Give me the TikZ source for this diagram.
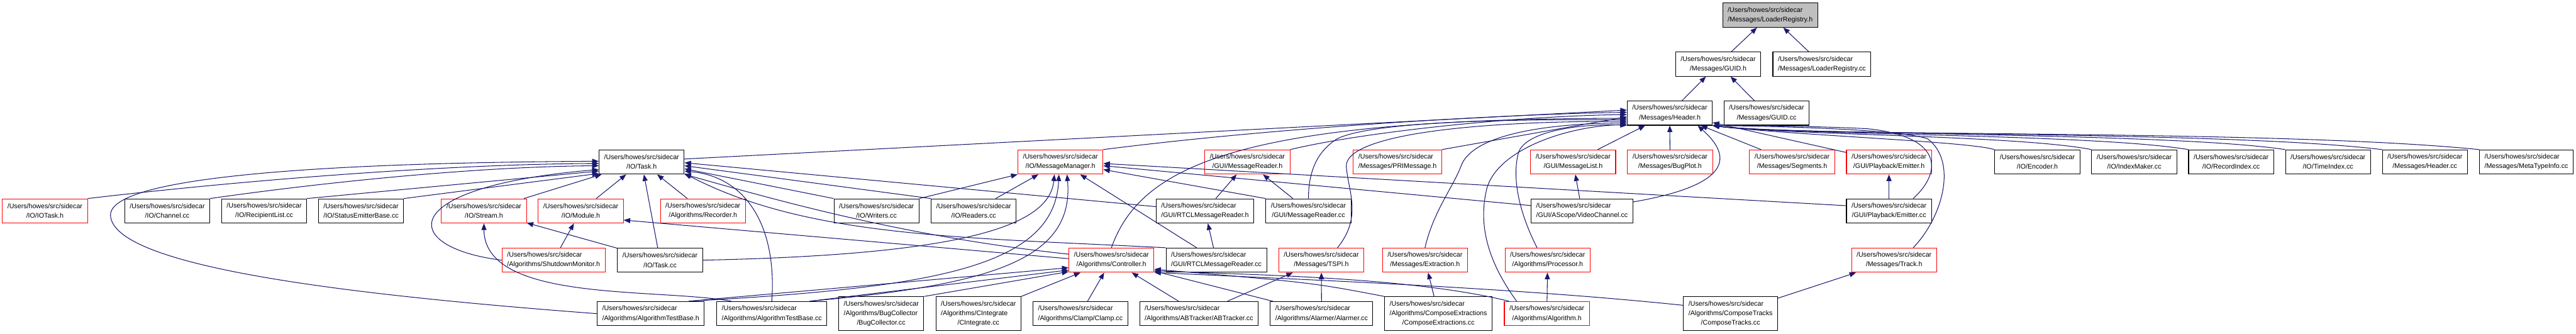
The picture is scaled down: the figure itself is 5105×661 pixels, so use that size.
\documentclass[tikz,border=0pt]{standalone}
\usepackage{fontspec}
\setmainfont{Liberation Sans}
\usepackage{tikz}
\usetikzlibrary{arrows.meta}
\definecolor{edgeblue}{RGB}{25,25,112}
\newcommand{\srcdir}{/Users/howes/src/sidecar}

\begin{document}
\begin{tikzpicture}[
  x=1pt, y=-1pt,
  filebox/.style={rectangle, draw=black, fill=white, line width=1.3pt,
              minimum height=48pt, inner xsep=10pt, inner ysep=4pt, align=center,
              font=\fontsize{13.3}{19}\selectfont},
  partbox/.style={filebox, draw=red},
  curbox/.style={filebox, fill=black!25},
  lftbox/.style={align=left},
  tallbox/.style={align=left, minimum height=67pt},
  incl/.style={-{Triangle[length=13pt,width=10pt]}, draw=edgeblue, line width=1.3pt}
]
\useasboundingbox (0,0) rectangle (5105,661);

\node[curbox, lftbox] (LRh) at (3508,30) {\srcdir\\/Messages/LoaderRegistry.h};
\node[filebox] (GUIDh) at (3405,127) {\srcdir\\/Messages/GUID.h};
\node[filebox, lftbox] (LRcc) at (3610.5,127) {\srcdir\\/Messages/LoaderRegistry.cc};
\node[filebox] (Headerh) at (3309,224) {\srcdir\\/Messages/Header.h};
\node[filebox] (GUIDcc) at (3501,224) {\srcdir\\/Messages/GUID.cc};

\node[filebox] (Taskh) at (1271.5,321) {\srcdir\\/IO/Task.h};
\node[partbox] (MsgMgrh) at (2101.5,321) {\srcdir\\/IO/MessageManager.h};
\node[partbox] (MsgRdrh) at (2472,321) {\srcdir\\/GUI/MessageReader.h};
\node[partbox, lftbox] (PRIMsgh) at (2769.5,321) {\srcdir\\/Messages/PRIMessage.h};
\node[partbox] (MsgListh) at (3117.5,321) {\srcdir\\/GUI/MessageList.h};
\node[partbox] (BugPloth) at (3309.5,321) {\srcdir\\/Messages/BugPlot.h};
\node[partbox] (Segmentsh) at (3551.5,321) {\srcdir\\/Messages/Segments.h};
\node[partbox] (Emitterh) at (3743.5,321) {\srcdir\\/GUI/Playback/Emitter.h};
\node[filebox] (Encoderh) at (4037.5,321) {\srcdir\\/IO/Encoder.h};
\node[filebox] (IndexMakercc) at (4229.5,321) {\srcdir\\/IO/IndexMaker.cc};
\node[filebox] (RecordIndexcc) at (4421.5,321) {\srcdir\\/IO/RecordIndex.cc};
\node[filebox] (TimeIndexcc) at (4613.5,321) {\srcdir\\/IO/TimeIndex.cc};
\node[filebox] (Headercc) at (4805.5,321) {\srcdir\\/Messages/Header.cc};
\node[filebox, lftbox] (MetaTypeInfocc) at (5006.5,321) {\srcdir\\/Messages/MetaTypeInfo.cc};

\node[partbox] (IOTaskh) at (89,418) {\srcdir\\/IO/IOTask.h};
\node[filebox] (Channelcc) at (331.5,418) {\srcdir\\/IO/Channel.cc};
\node[filebox] (RecipientListcc) at (523.5,418) {\srcdir\\/IO/RecipientList.cc};
\node[filebox] (StatusEmittercc) at (715.5,418) {\srcdir\\/IO/StatusEmitterBase.cc};
\node[partbox] (Streamh) at (959,418) {\srcdir\\/IO/Stream.h};
\node[partbox] (Moduleh) at (1151,418) {\srcdir\\/IO/Module.h};
\node[partbox] (Recorderh) at (1393,418) {\srcdir\\/Algorithms/Recorder.h};
\node[filebox] (Writerscc) at (1737,418) {\srcdir\\/IO/Writers.cc};
\node[filebox] (Readerscc) at (1929.5,418) {\srcdir\\/IO/Readers.cc};
\node[filebox, lftbox] (RTCLRdrh) at (2388,418) {\srcdir\\/GUI/RTCLMessageReader.h};
\node[filebox] (MsgRdrcc) at (2593,418) {\srcdir\\/GUI/MessageReader.cc};
\node[filebox, lftbox] (VideoChancc) at (3135,418) {\srcdir\\/GUI/AScope/VideoChannel.cc};
\node[filebox] (Emittercc) at (3743.5,418) {\srcdir\\/GUI/Playback/Emitter.cc};

\node[partbox, lftbox] (Shutdownh) at (1097,515.5) {\srcdir\\/Algorithms/ShutdownMonitor.h};
\node[filebox] (Taskcc) at (1308,515.5) {\srcdir\\/IO/Task.cc};
\node[partbox] (Controllerh) at (2202.5,515.5) {\srcdir\\/Algorithms/Controller.h};
\node[filebox, lftbox] (RTCLRdrcc) at (2410.5,515.5) {\srcdir\\/GUI/RTCLMessageReader.cc};
\node[partbox] (TSPIh) at (2618.5,515.5) {\srcdir\\/Messages/TSPI.h};
\node[partbox] (Extractionh) at (2824,515.5) {\srcdir\\/Messages/Extraction.h};
\node[partbox] (Processorh) at (3067,515.5) {\srcdir\\/Algorithms/Processor.h};
\node[partbox] (Trackh) at (3753.5,515.5) {\srcdir\\/Messages/Track.h};

\node[filebox, lftbox] (ATBh) at (1289.5,621.5) {\srcdir\\/Algorithms/AlgorithmTestBase.h};
\node[filebox, lftbox] (ATBcc) at (1529.5,621.5) {\srcdir\\/Algorithms/AlgorithmTestBase.cc};
\node[filebox, tallbox] (BugCollcc) at (1746.5,621.5) {\srcdir\\/Algorithms/BugCollector\\\hspace*{1.95em}/BugCollector.cc};
\node[filebox, tallbox] (CIntegcc) at (1939,621.5) {\srcdir\\/Algorithms/CIntegrate\\\hspace*{2.47em}/CIntegrate.cc};
\node[filebox, lftbox] (Clampcc) at (2141,621.5) {\srcdir\\/Algorithms/Clamp/Clamp.cc};
\node[filebox, lftbox] (ABTrackercc) at (2376,621.5) {\srcdir\\/Algorithms/ABTracker/ABTracker.cc};
\node[filebox, lftbox] (Alarmercc) at (2619,621.5) {\srcdir\\/Algorithms/Alarmer/Alarmer.cc};
\node[filebox, tallbox] (CompExtcc) at (2850.5,621.5) {\srcdir\\/Algorithms/ComposeExtractions\\\hspace*{1.86em}/ComposeExtractions.cc};
\node[partbox] (Algorithmh) at (3065.5,621.5) {\srcdir\\/Algorithms/Algorithm.h};
\node[filebox, tallbox] (CompTrkcc) at (3429.5,621.5) {\srcdir\\/Algorithms/ComposeTracks\\\hspace*{1.86em}/ComposeTracks.cc};

% straight includes
\foreach \a/\b in {GUIDh/LRh, LRcc/LRh, Headerh/GUIDh, GUIDcc/GUIDh,
    MsgListh/Headerh, BugPloth/Headerh, Segmentsh/Headerh, Emitterh/Headerh,
    Streamh/Taskh, Moduleh/Taskh, Recorderh/Taskh, Taskcc/Taskh, Taskcc/Streamh,
    Shutdownh/Moduleh, Readerscc/MsgMgrh, RTCLRdrh/MsgRdrh, RTCLRdrcc/RTCLRdrh,
    RTCLRdrcc/MsgMgrh, MsgRdrcc/MsgRdrh, VideoChancc/MsgListh, Emittercc/Emitterh,
    CIntegcc/Controllerh, Clampcc/Controllerh, ABTrackercc/Controllerh,
    Alarmercc/Controllerh, ABTrackercc/TSPIh, Alarmercc/TSPIh,
    CompExtcc/Extractionh, Algorithmh/Processorh, CompTrkcc/Trackh}
  \draw[incl] (\a) -- (\b);

% into Header.h
\draw[incl] (Taskh.4) -- (Headerh.176);
\draw[incl] (MsgMgrh.north east) .. controls (2550,250) and (3000,226) .. (Headerh.179);
\draw[incl] (MsgRdrh.north east) .. controls (2700,262) and (3000,230) .. (Headerh.182);
\draw[incl] (PRIMsgh.north east) -- (Headerh.185);
\draw[incl] (Controllerh.north) .. controls (2260,330) and (2450,235) .. (Headerh.187);
\draw[incl] (MsgRdrcc.north) .. controls (2593,340) and (2610,300) .. (2650,275)
  .. controls (2720,240) and (3000,236) .. (Headerh.189);
\draw[incl] ([xshift=32pt]TSPIh.north) .. controls (2700,430) and (2672,380) .. (2668,330)
  .. controls (2665,270) and (2900,240) .. (Headerh.191);
\draw[incl] (Extractionh.north) .. controls (2840,420) and (2880,370) .. (2895,330)
  .. controls (2915,270) and (3050,245) .. (Headerh.193);
\draw[incl] ([xshift=-60pt]Algorithmh.north) .. controls (2950,520) and (2930,450) .. (2945,380)
  .. controls (2960,300) and (3100,250) .. (Headerh.195);
\draw[incl] ([xshift=-21pt]Processorh.north) .. controls (3010,420) and (2995,350) .. (3010,300)
  .. controls (3030,255) and (3150,245) .. (Headerh.196);
\draw[incl] (VideoChancc.10) .. controls (3470,360) and (3410,290) .. (Headerh.-24);
\draw[incl] ([xshift=48pt]Emittercc.north) .. controls (3850,340) and (3850,270) .. (3700,255)
  .. controls (3600,250) and (3450,248) .. (Headerh.south east);
\draw[incl] ([xshift=38pt]Trackh.north) .. controls (3850,430) and (3880,320) .. (3820,275)
  .. controls (3760,255) and (3500,250) .. (Headerh.south east);
\draw[incl] (Encoderh.north west) .. controls (3900,280) and (3550,268) .. (Headerh.south east);
\draw[incl] (IndexMakercc.north west) .. controls (4000,268) and (3550,268) .. (Headerh.south east);
\draw[incl] (RecordIndexcc.north west) .. controls (4150,265) and (3550,268) .. (Headerh.south east);
\draw[incl] (TimeIndexcc.north west) .. controls (4300,262) and (3550,268) .. (Headerh.south east);
\draw[incl] (Headercc.north west) .. controls (4400,258) and (3550,270) .. (Headerh.south east);
\draw[incl] (MetaTypeInfocc.north west) .. controls (4500,255) and (3550,272) .. (Headerh.south east);

% into Task.h
\draw[incl] (ATBh.west) .. controls (700,585) and (225,530) .. (219,427)
  .. controls (215,345) and (700,322) .. (Taskh.179);
\draw[incl] (IOTaskh.north east) .. controls (500,355) and (900,325) .. (Taskh.182);
\draw[incl] (Channelcc.north east) .. controls (650,360) and (950,330) .. (Taskh.185);
\draw[incl] (RecipientListcc.north east) -- (Taskh.192);
\draw[incl] (StatusEmittercc.north east) -- (Taskh.195);
\draw[incl] (Shutdownh.west) .. controls (790,490) and (780,370) .. (Taskh.190);
\draw[incl] (RTCLRdrh.175) -- (Taskh.-1);
\draw[incl] (Readerscc.north west) -- (Taskh.-5);
\draw[incl] (Writerscc.north west) -- (Taskh.-9);
\draw[incl] (ATBcc.north) .. controls (1540,450) and (1480,350) .. (Taskh.-12);
\draw[incl] (RTCLRdrcc.north west) .. controls (1900,470) and (1600,470) .. (Taskh.-15);
\draw[incl] (Controllerh.172) .. controls (1800,470) and (1550,400) .. (Taskh.-16);
\draw[incl] ([xshift=-80pt]ATBcc.north) .. controls (1300,570) and (960,600) .. (Streamh.south);
\draw[incl] (Controllerh.178) -- (Moduleh.-12);

% into MessageManager.h
\draw[incl] (Writerscc.north east) -- (MsgMgrh.south west);
\draw[incl] (Taskcc.east) .. controls (1900,505) and (2080,450) .. ([xshift=-12pt]MsgMgrh.south);
\draw[incl] ([xshift=75pt]ATBh.north) .. controls (1850,570) and (2090,530) .. ([xshift=-3pt]MsgMgrh.south);
\draw[incl] ([xshift=75pt]ATBcc.north) .. controls (1950,565) and (2130,520) .. ([xshift=13pt]MsgMgrh.south);
\draw[incl] (MsgRdrcc.north west) -- (MsgMgrh.-10);
\draw[incl] (VideoChancc.174) -- (MsgMgrh.-5);
\draw[incl] (Emittercc.173) -- (MsgMgrh.-2);

% into Controller.h
\draw[incl] ([xshift=75pt]ATBh.north) -- (Controllerh.190);
\draw[incl] ([xshift=75pt]ATBcc.north) -- (Controllerh.193);
\draw[incl] (BugCollcc.north east) -- (Controllerh.195);
\draw[incl] (CompExtcc.north west) .. controls (2600,560) .. (Controllerh.-12);
\draw[incl] ([xshift=-75pt]Algorithmh.north) .. controls (2800,550) and (2500,545) .. (Controllerh.-14);
\draw[incl] (CompTrkcc.170) .. controls (3000,570) and (2600,555) .. (Controllerh.-16);
\end{tikzpicture}
\end{document}
